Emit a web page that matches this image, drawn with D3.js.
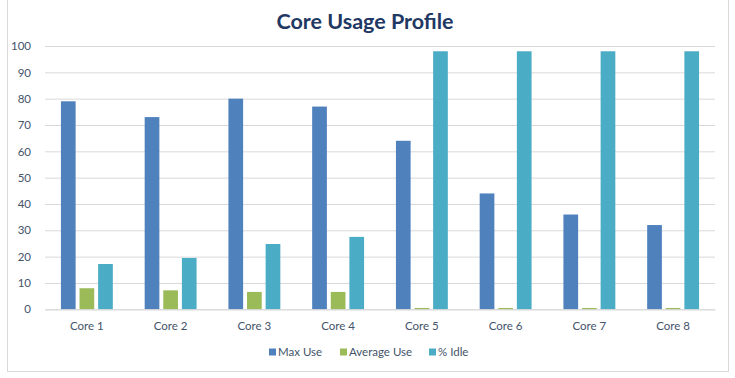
<!DOCTYPE html>
<html><head><meta charset="utf-8">
<script src="https://cdn.jsdelivr.net/npm/d3@7"></script>
<style>body{margin:0;background:#fff;} svg{display:block;}</style>
</head><body>
<svg id="chart" width="735" height="378"></svg>
<script>
const categories = ["Core 1","Core 2","Core 3","Core 4","Core 5","Core 6","Core 7","Core 8"];
const seriesNames = ["Max Use","Average Use","% Idle"];
const maxUse = [79, 73, 80, 77, 64, 44, 36, 32];
const avgUse = [8, 7.2, 6.6, 6.6, 0.5, 0.5, 0.5, 0.5];
const idle = [17.2, 19.5, 24.8, 27.5, 98, 98, 98, 98];
const colors = ["#4f81bd", "#9bbb59", "#4bacc6"];
const yTicks = [0,10,20,30,40,50,60,70,80,90,100];

(function(){
const seriesValues = [maxUse, avgUse, idle];
const svg = d3.select("#chart");
const font = "Lato, 'Open Sans', sans-serif";
const textCol = "#44546a";

svg.append("rect").attr("x",7.5).attr("y",-1).attr("width",721).attr("height",372.5)
  .attr("fill","#fff").attr("stroke","#d9d9d9").attr("stroke-width",1);

const mLeft = 45, mRight = 715, mTop = 46, mBottom = 309.3;
const x = d3.scaleBand().domain(categories).range([mLeft,mRight]).padding(0);
const x1 = d3.scaleBand().domain(seriesNames).range([-25.95,25.95]).paddingInner(0.21).paddingOuter(0);
const y = d3.scaleLinear().domain([0,100]).range([mBottom, mTop]);

const yAxis = d3.axisLeft(y).tickValues(yTicks).tickSize(-(mRight-mLeft)).tickPadding(14);
const gy = svg.append("g").attr("transform",`translate(${mLeft},0)`).call(yAxis);
gy.select(".domain").remove();
gy.selectAll(".tick line").attr("stroke","#d9d9d9").attr("stroke-width",1);
gy.selectAll(".tick text").attr("font-family",font).attr("font-size",11.5).attr("fill",textCol);

const rows = categories.map((c,i)=>({c, vals: seriesNames.map((s,j)=>({s, v: seriesValues[j][i], col: colors[j]}))}));
const g = svg.append("g");
const grp = g.selectAll("g.grp").data(rows).join("g")
  .attr("transform", d=>`translate(${x(d.c)+x.bandwidth()/2},0)`);
grp.selectAll("rect").data(d=>d.vals).join("rect")
  .attr("x", d=>x1(d.s)).attr("width", x1.bandwidth())
  .attr("y", d=>y(d.v)).attr("height", d=>mBottom - y(d.v))
  .attr("fill", d=>d.col);

const xAxis = d3.axisBottom(x).tickSize(0).tickPadding(13);
const gx = svg.append("g").attr("transform",`translate(0,${mBottom})`).call(xAxis);
gx.select(".domain").attr("stroke","#d9d9d9");
gx.selectAll(".tick text").attr("font-family",font).attr("font-size",11.5).attr("fill",textCol);

svg.append("text").attr("x",365).attr("y",29).attr("text-anchor","middle")
  .attr("font-family",font).attr("font-weight","bold").attr("font-size",21.5)
  .attr("fill","#1f3864").text("Core Usage Profile");

const legX = [269, 340, 429];
const leg = svg.append("g");
seriesNames.forEach((s,i)=>{
  leg.append("rect").attr("x",legX[i]).attr("y",348.5).attr("width",7).attr("height",7).attr("fill",colors[i]);
  leg.append("text").attr("x",legX[i]+9).attr("y",356).attr("font-family",font).attr("font-size",11.5)
    .attr("fill",textCol).text(s);
});
})();
</script>
</body></html>
